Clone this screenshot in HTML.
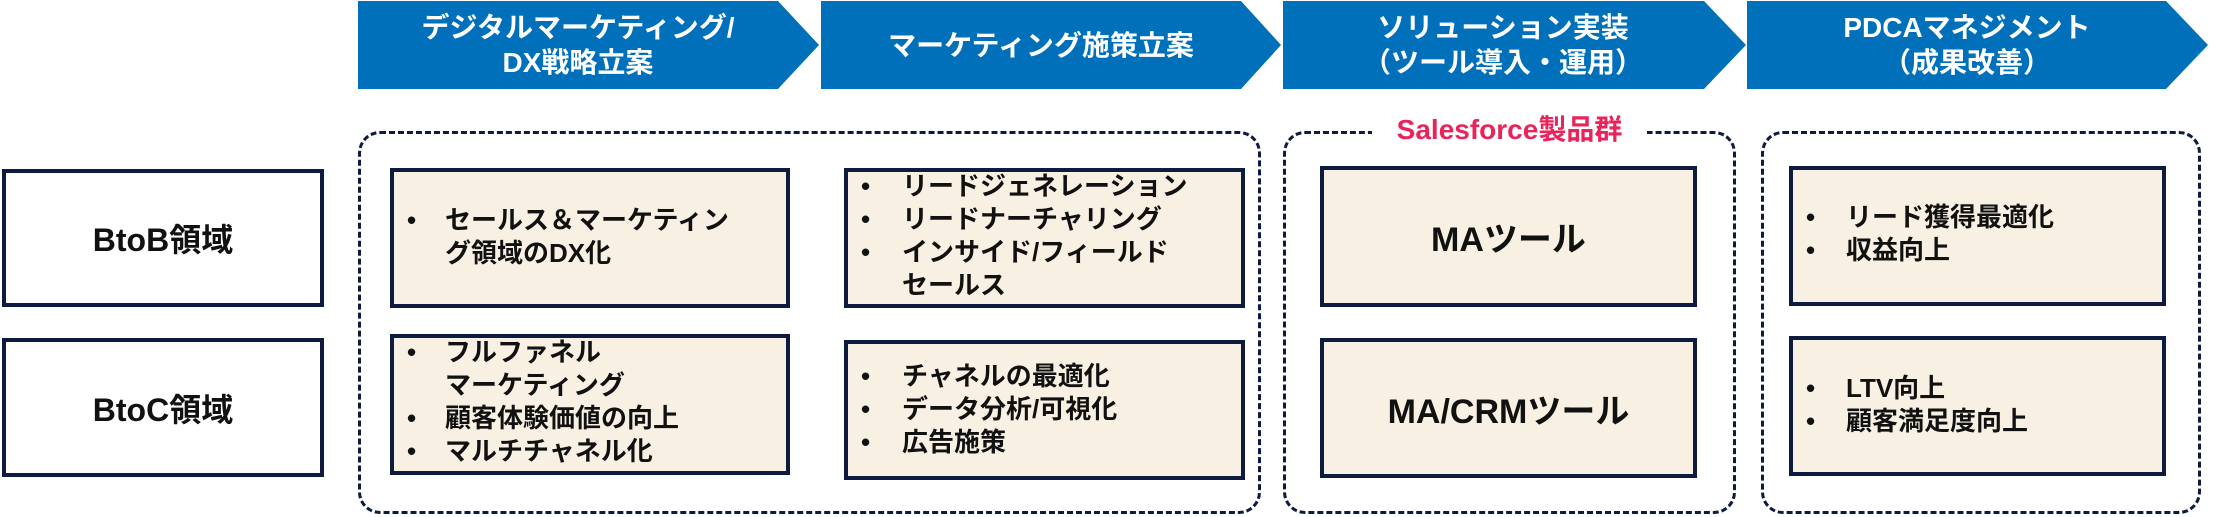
<!DOCTYPE html>
<html><head><meta charset="utf-8"><style>
body{margin:0;width:2213px;height:517px;background:#fff;position:relative;overflow:hidden;font-family:"Liberation Sans","Noto Sans CJK JP",sans-serif;font-weight:bold}
.a{position:absolute}
.box{position:absolute;background:#f8f1e3;border:4px solid #0d1b3e;box-sizing:border-box}
.lab{position:absolute;background:#fff;border:4px solid #0d1b3e;box-sizing:border-box;display:flex;align-items:center;justify-content:center;font-size:32px;color:#111}
.dash{position:absolute;border:3px dashed #0d1b3e;border-radius:22px;box-sizing:border-box}
.t{position:absolute;font-size:26px;line-height:33px;color:#111;white-space:nowrap}
.ct{position:absolute;display:flex;align-items:center;justify-content:center;font-size:34px;color:#111}
.ch{position:absolute;color:#fff;font-size:28px;line-height:35px;text-align:center;display:flex;align-items:center;justify-content:center;top:1px;height:88px}
</style></head><body>
<svg class="a" style="left:0;top:0" width="2213" height="100">
<polygon points="358,1 778,1 819,45 778,89 358,89" fill="#0070bb"/>
<polygon points="821,1 1241,1 1281,45 1241,89 821,89" fill="#0070bb"/>
<polygon points="1283,1 1704,1 1746,45 1704,89 1283,89" fill="#0070bb"/>
<polygon points="1747,1 2166,1 2208,45 2166,89 1747,89" fill="#0070bb"/>
</svg>
<div class="ch" style="left:358px;width:440px">デジタルマーケティング/<br>DX戦略立案</div>
<div class="ch" style="left:821px;width:440px">マーケティング施策立案</div>
<div class="ch" style="left:1283px;width:440px">ソリューション実装<br>（ツール導入・運用）</div>
<div class="ch" style="left:1747px;width:440px">PDCAマネジメント<br>（成果改善）</div>

<div class="lab" style="left:2px;top:169px;width:322px;height:138px">BtoB領域</div>
<div class="lab" style="left:2px;top:338px;width:322px;height:139px">BtoC領域</div>

<div class="dash" style="left:358px;top:131px;width:903px;height:383px"></div>
<div class="dash" style="left:1283px;top:131px;width:453px;height:383px"></div>
<div class="dash" style="left:1761px;top:131px;width:440px;height:383px"></div>
<div class="a" style="left:1372px;top:110px;width:275px;height:40px;background:#fff;color:#e8245a;font-size:28px;text-align:center;line-height:40px">Salesforce製品群</div>

<div class="box" style="left:390px;top:168px;width:400px;height:140px"></div>
<div class="t" style="left:407px;top:204px">•</div>
<div class="t" style="left:445px;top:204px">セールス＆マーケティン<br>グ領域のDX化</div>

<div class="box" style="left:844px;top:168px;width:401px;height:140px"></div>
<div class="t" style="left:861px;top:170px">•<br>•<br>•</div>
<div class="t" style="left:902px;top:170px">リードジェネレーション<br>リードナーチャリング<br>インサイド/フィールド<br>セールス</div>

<div class="box" style="left:390px;top:334px;width:400px;height:141px"></div>
<div class="t" style="left:407px;top:336px">•<br><br>•<br>•</div>
<div class="t" style="left:445px;top:336px">フルファネル<br>マーケティング<br>顧客体験価値の向上<br>マルチチャネル化</div>

<div class="box" style="left:844px;top:340px;width:401px;height:140px"></div>
<div class="t" style="left:861px;top:360px">•<br>•<br>•</div>
<div class="t" style="left:902px;top:360px">チャネルの最適化<br>データ分析/可視化<br>広告施策</div>

<div class="box" style="left:1320px;top:166px;width:377px;height:141px"></div>
<div class="ct" style="left:1320px;top:166px;width:377px;height:141px">MAツール</div>
<div class="box" style="left:1320px;top:338px;width:377px;height:140px"></div>
<div class="ct" style="left:1320px;top:338px;width:377px;height:140px">MA/CRMツール</div>

<div class="box" style="left:1789px;top:166px;width:377px;height:140px"></div>
<div class="t" style="left:1806px;top:201px">•<br>•</div>
<div class="t" style="left:1846px;top:201px">リード獲得最適化<br>収益向上</div>
<div class="box" style="left:1789px;top:336px;width:377px;height:140px"></div>
<div class="t" style="left:1806px;top:372px">•<br>•</div>
<div class="t" style="left:1846px;top:372px">LTV向上<br>顧客満足度向上</div>
</body></html>
